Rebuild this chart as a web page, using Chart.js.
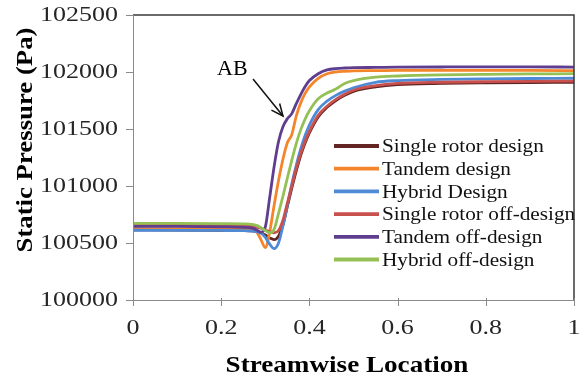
<!DOCTYPE html>
<html>
<head>
<meta charset="utf-8">
<script src="https://cdn.jsdelivr.net/npm/chart.js@4"></script>
<style>
html,body{margin:0;padding:0;background:#fff;}
#wrap{width:582px;height:378px;position:relative;}
</style>
</head>
<body>
<div id="wrap"><canvas id="c" width="582" height="378"></canvas></div>
<script>
// ---- data ----
const seriesNames = ["Single rotor design","Tandem design","Hybrid Design","Single rotor off-design","Tandem off-design","Hybrid off-design"];
const xPos = [0,0.1,0.2,0.25,0.27,0.28,0.29,0.30,0.31,0.32,0.33,0.34,0.35,0.36,0.37,0.38,0.39,0.40,0.42,0.44,0.46,0.48,0.50,0.55,0.60,0.70,0.80,0.90,1.00];
const singleDesign = [100615,100614,100612,100610,100606,100600,100590,100570,100545,100530,100560,100660,100820,100980,101130,101265,101375,101465,101605,101690,101750,101795,101830,101870,101890,101900,101905,101908,101910];
const tandemDesign = [100625,100624,100622,100620,100612,100600,100530,100460,100600,100830,101048,101235,101380,101450,101610,101725,101810,101870,101945,101985,102000,102006,102010,102012,102014,102015,102015,102014,102012];
const hybridDesign = [100612,100611,100610,100608,100605,100600,100588,100550,100490,100450,100500,100650,100830,101018,101180,101320,101440,101535,101670,101745,101795,101832,101862,101910,101925,101935,101940,101943,101945];
const singleOff = [100655,100655,100653,100650,100645,100640,100630,100615,100600,100590,100610,100700,100850,101000,101150,101280,101390,101480,101620,101700,101760,101805,101840,101880,101900,101910,101915,101918,101920];
const tandemOff = [100645,100645,100642,100638,100630,100615,100595,100640,100900,101170,101390,101520,101590,101635,101720,101800,101870,101925,101985,102018,102030,102035,102038,102040,102042,102044,102045,102045,102043];
const hybridOff = [100672,100672,100670,100668,100664,100655,100635,100610,100590,100620,100760,100910,101070,101225,101370,101490,101585,101660,101765,101815,101850,101900,101925,101955,101965,101975,101980,101983,101985];
const yTicks = [100000,100500,101000,101500,102000,102500];
const xTicks = [0,0.2,0.4,0.6,0.8,1];
const xTickLabels = ["0","0.2","0.4","0.6","0.8","1"];
const xTitle = "Streamwise Location";
const yTitle = "Static Pressure (Pa)";
const annotationText = "AB";

const colors = ["#632523","#f5852a","#4e8ad6","#c8504d","#5f3d8f","#95c056"];
const allSeries = [singleDesign,tandemDesign,hybridDesign,singleOff,tandemOff,hybridOff];

const datasets = allSeries.map((vals,i)=>({
  label: seriesNames[i],
  data: vals.map((v,j)=>({x:xPos[j], y:v})),
  borderColor: colors[i],
  backgroundColor: colors[i],
  borderWidth: 2.8,
  pointRadius: 0,
  cubicInterpolationMode: 'monotone',
  fill: false,
  order: allSeries.length - 1 - i
}));

function sText(ctx, txt, x, y, sx, align){
  ctx.save();
  ctx.translate(x,y);
  ctx.scale(sx,1);
  ctx.textAlign = align;
  ctx.fillText(txt,0,0);
  ctx.restore();
}

const decor = {
  id:'decor',
  afterDraw(chart){
    const ctx = chart.ctx;
    const xs = chart.scales.x, ys = chart.scales.y;
    const L = chart.chartArea.left, R = chart.chartArea.right, T = chart.chartArea.top, B = chart.chartArea.bottom;
    ctx.save();
    // frame top/right
    ctx.strokeStyle = '#3a3a3a';
    ctx.lineWidth = 1.5;
    ctx.beginPath();
    ctx.moveTo(L, T); ctx.lineTo(R, T); ctx.lineTo(R, B);
    ctx.stroke();
    // axes
    ctx.strokeStyle = '#8a8a8a';
    ctx.lineWidth = 1;
    ctx.beginPath();
    ctx.moveTo(L+0.5, T); ctx.lineTo(L+0.5, B+0.5); ctx.lineTo(R, B+0.5);
    ctx.stroke();
    // ticks
    ctx.beginPath();
    yTicks.forEach(v=>{ const py = Math.round(ys.getPixelForValue(v))+0.5; ctx.moveTo(L-7, py); ctx.lineTo(L+0.5, py); });
    xTicks.forEach(v=>{ const px = Math.round(xs.getPixelForValue(v))+0.5; ctx.moveTo(px, B-2); ctx.lineTo(px, B+6); });
    ctx.stroke();
    // tick labels
    ctx.fillStyle = '#262626';
    ctx.font = '20px "Liberation Serif", "Times New Roman", serif';
    ctx.textBaseline = 'middle';
    yTicks.forEach(v=>{ sText(ctx, String(v), 118, ys.getPixelForValue(v)+1, 1.3, 'right'); });
    ctx.textBaseline = 'alphabetic';
    xTicks.forEach((v,i)=>{ sText(ctx, xTickLabels[i], xs.getPixelForValue(v), 334, 1.3, 'center'); });
    // axis titles
    ctx.fillStyle = '#000';
    ctx.font = 'bold 24px "Liberation Serif", "Times New Roman", serif';
    sText(ctx, xTitle, 347, 372, 1.13, 'center');
    ctx.save();
    ctx.translate(32, 140);
    ctx.rotate(-Math.PI/2);
    ctx.scale(1.115,1);
    ctx.textAlign = 'center';
    ctx.fillText(yTitle, 0, 0);
    ctx.restore();
    // annotation
    ctx.font = '22px "Liberation Serif", "Times New Roman", serif';
    ctx.textAlign = 'left';
    ctx.fillText(annotationText, 217, 75);
    ctx.strokeStyle = '#111';
    ctx.lineWidth = 1.5;
    const sx0=253, sy0=79, tx=283, ty=116;
    ctx.beginPath(); ctx.moveTo(sx0,sy0); ctx.lineTo(tx,ty); ctx.stroke();
    const ang = Math.atan2(ty-sy0, tx-sx0);
    const hl = 13, ha = 0.42;
    ctx.beginPath();
    ctx.moveTo(tx - hl*Math.cos(ang-ha), ty - hl*Math.sin(ang-ha));
    ctx.lineTo(tx,ty);
    ctx.lineTo(tx - hl*Math.cos(ang+ha), ty - hl*Math.sin(ang+ha));
    ctx.stroke();
    // legend
    ctx.font = '19.5px "Liberation Serif", "Times New Roman", serif';
    ctx.textBaseline = 'middle';
    chart.data.datasets.forEach((ds,i)=>{
      const ry = 146 + i*22.7;
      ctx.strokeStyle = ds.borderColor;
      ctx.lineWidth = 3.8;
      ctx.beginPath(); ctx.moveTo(334, ry); ctx.lineTo(379, ry); ctx.stroke();
      ctx.fillStyle = '#111';
      sText(ctx, ds.label, 382, ry+1, 1.09, 'left');
    });
    ctx.restore();
  }
};

new Chart(document.getElementById('c'), {
  type: 'line',
  data: { datasets },
  options: {
    responsive: false,
    animation: false,
    devicePixelRatio: 1,
    layout: { padding: { left: 0, right: 8, top: 15, bottom: 0 } },
    plugins: { legend: { display: false }, tooltip: { enabled: false } },
    scales: {
      x: {
        type: 'linear', min: 0, max: 1,
        grid: { display: false, drawTicks: false },
        border: { display: false },
        ticks: { display: false },
        afterFit: s => { s.height = 78; }
      },
      y: {
        min: 100000, max: 102500,
        grid: { display: false, drawTicks: false },
        border: { display: false },
        ticks: { display: false },
        afterFit: s => { s.width = 133; }
      }
    }
  },
  plugins: [decor]
});
</script>
</body>
</html>
